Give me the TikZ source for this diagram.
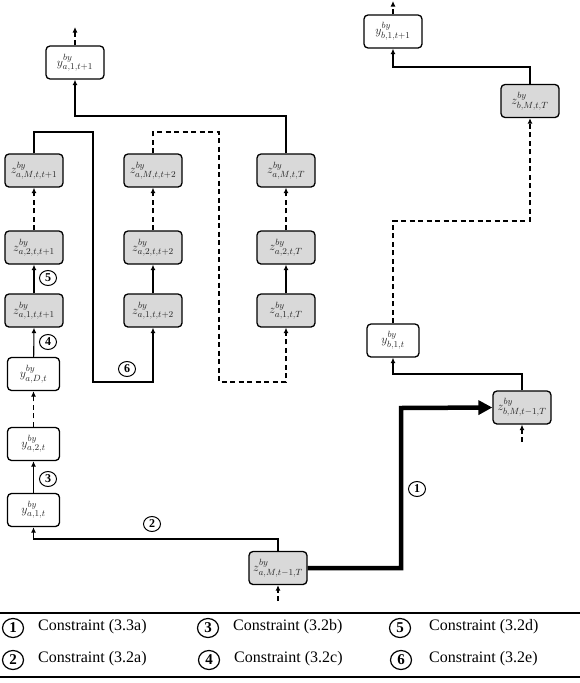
\documentclass[tikz,border=0pt]{standalone}
\usepackage{fontspec}
\setmainfont{Liberation Serif}
\DeclareMathSizes{12}{12}{9.5}{7}
\usetikzlibrary{arrows.meta,shapes.geometric}
\begin{document}
\begin{tikzpicture}[x=1pt,y=-1pt,
  box/.style={draw, line width=1.3pt, rounded corners=4pt, minimum width=58pt, minimum height=33pt, inner sep=0pt, font=\fontsize{12}{14}\selectfont, text=black!85},
  gbox/.style={box, fill=gray!30},
  ybox/.style={box, minimum width=52pt},
  wire/.style={line width=1.1pt, -{Latex[length=5.5pt,width=5pt]}},
  dwire/.style={wire, dash pattern=on 5pt off 3.5pt},
  fat/.style={line width=4.5pt, line join=miter, -{Triangle[length=14pt,width=14pt]}},
  circ/.style={ellipse, draw, line width=1pt, minimum width=17pt, minimum height=15pt, inner sep=0pt, font=\bfseries\fontsize{12}{12}\selectfont},
  lcirc/.style={ellipse, draw, line width=1.2pt, minimum width=21pt, minimum height=19pt, inner sep=0pt, font=\bfseries\fontsize{15}{15}\selectfont},
  ltext/.style={anchor=west, inner sep=0pt, font=\fontsize{16}{16}\selectfont}
]
\useasboundingbox (0,0) rectangle (580,683);

% nodes
\node[box]  (ya1t1) at (75,62.5)  {$y^{by}_{a,1,t+1}$};
\node[gbox] (zaMt1) at (34,170.5) {$z^{by}_{a,M,t,t+1}$};
\node[gbox] (zaMt2) at (153,170.5) {$z^{by}_{a,M,t,t+2}$};
\node[gbox] (zaMT)  at (286,170.5) {$z^{by}_{a,M,t,T}$};
\node[gbox] (za2t1) at (34,247.5) {$z^{by}_{a,2,t,t+1}$};
\node[gbox] (za2t2) at (153,247.5) {$z^{by}_{a,2,t,t+2}$};
\node[gbox] (za2T)  at (286,247.5) {$z^{by}_{a,2,t,T}$};
\node[gbox] (za1t1) at (34,310.5) {$z^{by}_{a,1,t,t+1}$};
\node[gbox] (za1t2) at (153,310.5) {$z^{by}_{a,1,t,t+2}$};
\node[gbox] (za1T)  at (286,310.5) {$z^{by}_{a,1,t,T}$};
\node[ybox] (yaDt)  at (33.5,374) {$y^{by}_{a,D,t}$};
\node[ybox] (ya2t)  at (33.5,444) {$y^{by}_{a,2,t}$};
\node[ybox] (ya1t)  at (33.5,510) {$y^{by}_{a,1,t}$};
\node[gbox] (zaMm)  at (278,568) {$z^{by}_{a,M,t-1,T}$};
\node[gbox] (zbMm)  at (522,407.5) {$z^{by}_{b,M,t-1,T}$};
\node[ybox] (yb1t)  at (393,340.5) {$y^{by}_{b,1,t}$};
\node[gbox] (zbMT)  at (530,101) {$z^{by}_{b,M,t,T}$};
\node[box]  (yb1t1) at (393,31.5) {$y^{by}_{b,1,t+1}$};

\coordinate (k6) at (93,382);
\coordinate (k7) at (219,382);
\coordinate (k1) at (401,408);
\coordinate (topA) at (75,27);
\coordinate (topB) at (393,1);
\coordinate (inA) at (278,601);
\coordinate (inB) at (522,442);

% connectors
\draw[wire] (zaMT.north) -- (zaMT.north |- 0,116) -| (ya1t1.south);
\draw[wire] (zaMt1.north) -- (zaMt1.north |- 0,132) -| (k6) -| (za1t2.south);
\draw[dwire] (zaMt2.north) -- (zaMt2.north |- 0,132) -| (k7) -| (za1T.south);
\draw[wire] (za1t1) -- (za2t1);
\draw[dwire] (za2t1) -- (zaMt1);
\draw[wire] (za1t2) -- (za2t2);
\draw[dwire] (za2t2) -- (zaMt2);
\draw[wire] (za1T) -- (za2T);
\draw[dwire] (za2T) -- (zaMT);
\draw[wire] (yaDt) -- (za1t1.south);
\draw[dwire] (ya2t) -- (yaDt);
\draw[wire] (ya1t) -- (ya2t);
\draw[wire] (zaMm.north) -- (zaMm.north |- 0,539) -| (ya1t.south);
\draw[fat] (zaMm.east) -| (k1) -- (zbMm.west);
\draw[wire] (zbMm.north) -- (zbMm.north |- 0,374) -| (yb1t.south);
\draw[dwire] (yb1t.north) -- (yb1t.north |- 0,221) -| (zbMT.south);
\draw[wire] (zbMT.north) -- (zbMT.north |- 0,67) -| (yb1t1.south);
\draw[dwire] (ya1t1.north) -- (topA);
\draw[dwire] (yb1t1.north) -- (topB);
\draw[dwire] (inA) -- (zaMm.south);
\draw[dwire] (inB) -- (zbMm.south);

% labels
\node[circ] (l1) at (417,489) {1};
\node[circ] (l2) at (152,524) {2};
\node[circ] (l3) at (48,479) {3};
\node[circ] (l4) at (48,342) {4};
\node[circ] (l5) at (48,278) {5};
\node[circ] (l6) at (127,369) {6};

% legend
\draw[line width=1.5pt] (0,613) -- (580,613);
\draw[line width=2.5pt] (0,677) -- (580,677);
\node[lcirc] (g1) at (13,628) {1};
\node[ltext] (t1) at (38,627) {Constraint (3.3a)};
\node[lcirc] (g3) at (208,628) {3};
\node[ltext] (t3) at (233,627) {Constraint (3.2b)};
\node[lcirc] (g5) at (400,628) {5};
\node[ltext] (t5) at (429,627) {Constraint (3.2d)};
\node[lcirc] (g2) at (13,660) {2};
\node[ltext] (t2) at (38,659) {Constraint (3.2a)};
\node[lcirc] (g4) at (209,660) {4};
\node[ltext] (t4) at (234,659) {Constraint (3.2c)};
\node[lcirc] (g6) at (401,660) {6};
\node[ltext] (t6) at (429,659) {Constraint (3.2e)};
\end{tikzpicture}
\end{document}
